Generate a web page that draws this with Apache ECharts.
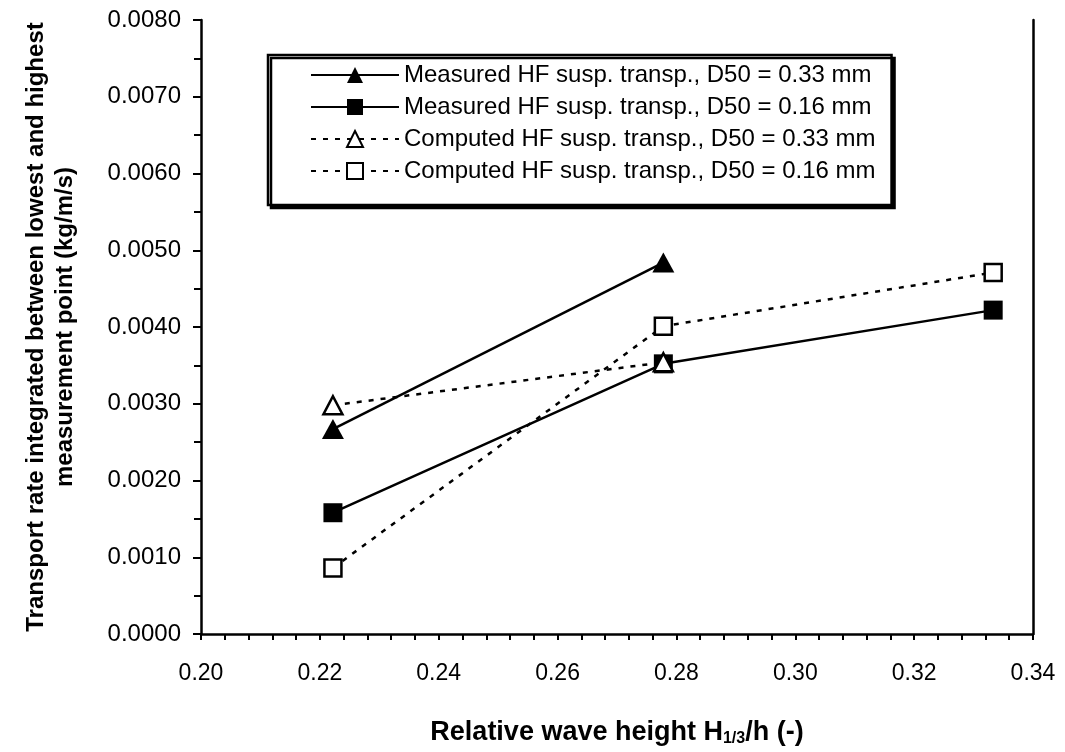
<!DOCTYPE html>
<html>
<head>
<meta charset="utf-8">
<script src="https://cdn.jsdelivr.net/npm/echarts@6/dist/echarts.min.js"></script>
<style>
    html, body { margin: 0; padding: 0; background: #fff; }
    #chart { width: 1065px; height: 752px; }
</style>
</head>
<body>
<div id="chart"></div>
<script>
    // relative wave height H1/3/h
    var waveHeight = [0.2222, 0.2778, 0.3333];
    // transport rates (kg/m/s)
    var measured033 = [0.00267, 0.00484];
    var measured016 = [0.00158, 0.00352, 0.00422];
    var computed033 = [0.00298, 0.00354];
    var computed016 = [0.00086, 0.00401, 0.00471];

    var seriesNames = [
        'Measured HF susp. transp., D50 = 0.33 mm',
        'Measured HF susp. transp., D50 = 0.16 mm',
        'Computed HF susp. transp., D50 = 0.33 mm',
        'Computed HF susp. transp., D50 = 0.16 mm'
    ];

    function pairs(ys) {
        return ys.map(function (y, i) { return [waveHeight[i], y]; });
    }

    var font = 'Liberation Sans, Arial, sans-serif';

    function makeSeries(name, ys, symbol, size, filled, dashed) {
        return {
            name: name,
            type: 'line',
            data: pairs(ys),
            symbol: symbol,
            symbolSize: size,
            showAllSymbol: true,
            lineStyle: {
                color: '#000',
                width: 2.5,
                type: dashed ? [5, 7] : 'solid'
            },
            itemStyle: {
                color: filled ? '#000' : '#fff',
                borderColor: '#000',
                borderWidth: filled ? 0 : 2.5
            },
            emphasis: { disabled: true }
        };
    }

    var chart = echarts.init(document.getElementById('chart'));
    var option = {
        animation: false,
        backgroundColor: '#fff',
        grid: { left: 201, right: 32, top: 20, bottom: 104 },
        legend: {
            orient: 'vertical',
            left: 268,
            top: 55,
            padding: [8, 16, 22, 42],
            itemWidth: 88,
            itemHeight: 20,
            itemGap: 8,
            borderColor: '#000',
            borderWidth: 2.5,
            backgroundColor: '#fff',
            shadowColor: '#000',
            shadowOffsetX: 3,
            shadowOffsetY: 3,
            shadowBlur: 0,
            textStyle: { fontFamily: font, fontSize: 24, lineHeight: 24, color: '#000' },
            data: seriesNames
        },
        xAxis: {
            type: 'value',
            min: 0.2,
            max: 0.34,
            interval: 0.02,
            axisLine: { onZero: false, lineStyle: { color: '#000', width: 2.5 } },
            axisTick: { inside: false, length: 6, lineStyle: { color: '#000', width: 2 } },
            minorTick: { show: true, splitNumber: 5, length: 6, lineStyle: { color: '#000', width: 2 } },
            splitLine: { show: false },
            axisLabel: {
                margin: 28,
                fontFamily: font,
                fontSize: 23,
                color: '#000',
                formatter: function (v) { return v.toFixed(2); }
            },
            name: '{b|Relative wave height H}{s|1/3}{b|/h (-)}',
            nameLocation: 'middle',
            nameGap: 84,
            nameTextStyle: {
                rich: {
                    b: { fontFamily: font, fontWeight: 'bold', fontSize: 27, color: '#000' },
                    s: { fontFamily: font, fontWeight: 'bold', fontSize: 16, color: '#000', padding: [13, 0, 0, 0] }
                }
            }
        },
        yAxis: [{
            type: 'value',
            min: 0,
            max: 0.008,
            interval: 0.001,
            axisLine: { show: true, onZero: false, lineStyle: { color: '#000', width: 2.5 } },
            axisTick: { inside: false, length: 8, lineStyle: { color: '#000', width: 2 } },
            minorTick: { show: true, splitNumber: 2, length: 7, lineStyle: { color: '#000', width: 2 } },
            splitLine: { show: false },
            axisLabel: {
                margin: 20,
                fontFamily: font,
                fontSize: 24,
                color: '#000',
                formatter: function (v) { return v.toFixed(4); }
            },
            name: 'Transport rate integrated between lowest and highest\nmeasurement point (kg/m/s)',
            nameLocation: 'middle',
            nameGap: 121,
            nameTextStyle: {
                fontFamily: font,
                fontWeight: 'bold',
                fontSize: 24,
                lineHeight: 29,
                color: '#000'
            }
        }, {
            type: 'value',
            position: 'right',
            min: 0,
            max: 0.008,
            interval: 0.001,
            axisLine: { show: true, lineStyle: { color: '#000', width: 2.5 } },
            axisTick: { show: false },
            axisLabel: { show: false },
            splitLine: { show: false }
        }],
        series: [
            makeSeries(seriesNames[0], measured033, 'triangle', [22, 20], true, false),
            makeSeries(seriesNames[1], measured016, 'rect', 19, true, false),
            makeSeries(seriesNames[2], computed033, 'triangle', [19, 18], false, true),
            makeSeries(seriesNames[3], computed016, 'rect', 17, false, true)
        ]
    };
    chart.setOption(option);
</script>
</body>
</html>
